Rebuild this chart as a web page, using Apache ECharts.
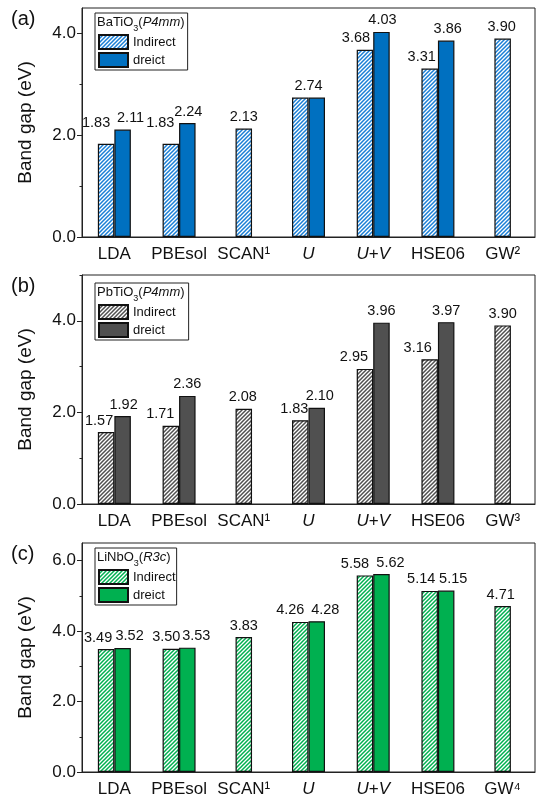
<!DOCTYPE html>
<html><head><meta charset="utf-8">
<script src="https://cdn.jsdelivr.net/npm/echarts@6/dist/echarts.min.js"></script>
<style>html,body{margin:0;padding:0;background:#fff}#c{width:536px;height:798px}</style>
</head><body><div id="c"></div>
<script>
// ---------- data ----------
const catsA = ['LDA', 'PBEsol', 'SCAN¹', 'U', 'U+V', 'HSE06', 'GW²'];
const catsB = ['LDA', 'PBEsol', 'SCAN¹', 'U', 'U+V', 'HSE06', 'GW³'];
const catsC = ['LDA', 'PBEsol', 'SCAN¹', 'U', 'U+V', 'HSE06', 'GW⁴'];

const batio3Indirect = [1.83, 1.83, 2.13, 2.74, 3.68, 3.31, 3.90];
const batio3Direct   = [2.11, 2.24, null, 2.74, 4.03, 3.86, null];
const pbtio3Indirect = [1.57, 1.71, 2.08, 1.83, 2.95, 3.16, 3.90];
const pbtio3Direct   = [1.92, 2.36, null, 2.10, 3.96, 3.97, null];
const linbo3Indirect = [3.49, 3.50, 3.83, 4.26, 5.58, 5.14, 4.71];
const linbo3Direct   = [3.52, 3.53, null, 4.28, 5.62, 5.15, null];

const yLabelsA = [0, 2, 4], yMinorA = [1, 3];
const yLabelsB = [0, 2, 4], yMinorB = [1, 3, 5];
const yLabelsC = [0, 2, 4, 6], yMinorC = [1, 3, 5];

// ---------- styling ----------
const FONT = 'Liberation Sans, Arial, Helvetica, sans-serif';
function hatch(color) {
  const c = document.createElement('canvas');
  c.width = 4; c.height = 4;
  const g = c.getContext('2d');
  g.fillStyle = '#ffffff'; g.fillRect(0, 0, 4, 4);
  g.strokeStyle = color; g.lineWidth = 1.5;
  g.beginPath();
  g.moveTo(-1, 5); g.lineTo(5, -1);
  g.moveTo(-3, 3); g.lineTo(3, -3);
  g.moveTo(1, 7); g.lineTo(7, 1);
  g.stroke();
  return c;
}

const panels = [
  { key: 'a', cats: catsA, ind: batio3Indirect, dir: batio3Direct, max: 4.5,
    labels: yLabelsA, minor: yMinorA, color: '#0070C0', hatchColor: '#1a7fd6',
    top: 8, boxTop: 13, boxRightPad: 12, title: '{n|BaTiO}{s|3}{n|(}{i|P4mm}{n|)}',
    indNudge: [[-10, -9], [-10.5, -9], [0, 0], null, [-9, 0], [-8, 0], [-1, 0]],
    dirNudge: [[8, 0], [1, 0], null, [-8.25, 0], [1, 0], [1.5, 0], null] },
  { key: 'b', cats: catsB, ind: pbtio3Indirect, dir: pbtio3Direct, max: 5,
    labels: yLabelsB, minor: yMinorB, color: '#505050', hatchColor: '#505050',
    top: 275, boxTop: 283, boxRightPad: 13, title: '{n|PbTiO}{s|3}{n|(}{i|P4mm}{n|)}',
    indNudge: [[-7, 0], [-10.5, 0], [-1, 0], [-6, 0], [-11, 0], [-12, 0], [0, 0]],
    dirNudge: [[1, 0], [0, 0], null, [3, 0], [0, 0], [0, 0], null] },
  { key: 'c', cats: catsC, ind: linbo3Indirect, dir: linbo3Direct, max: 6.5,
    labels: yLabelsC, minor: yMinorC, color: '#00B050', hatchColor: '#00B050',
    top: 543, boxTop: 548, boxRightPad: 1, title: '{n|LiNbO}{s|3}{n|(}{i|R3c}{n|)}',
    indNudge: [[-8, 0], [-4.5, 0], [0, 0], [-10, 0], [-10, 0], [-8.5, 0], [-2, 0]],
    dirNudge: [[7, 0], [9, 0], null, [8.5, 0], [9, 0], [7, 0], null] }
];

const option = {
  animation: false,
  textStyle: { fontFamily: FONT, color: '#111' },
  grid: [], xAxis: [], yAxis: [], series: [], legend: [], title: []
};

const richLegendTitle = {
  n: { fontSize: 13, color: '#111', fontFamily: FONT, fontWeight: 'normal', lineHeight: 15, verticalAlign: 'middle' },
  s: { fontSize: 9, color: '#111', fontFamily: FONT, fontWeight: 'normal', lineHeight: 9, verticalAlign: 'bottom', padding: [0, 0, -3, 0] },
  i: { fontSize: 13, color: '#111', fontFamily: FONT, fontWeight: 'normal', fontStyle: 'italic', lineHeight: 15, verticalAlign: 'middle' }
};

panels.forEach((p, k) => {
  const fillHatch = { image: hatch(p.hatchColor), repeat: 'repeat' };
  const border = { borderColor: '#111', borderWidth: 1.2 };
  option.grid.push({ left: 82, width: 453, top: p.top, height: 229, show: true,
    borderColor: '#222', borderWidth: 1, backgroundColor: 'transparent' });
  option.xAxis.push({
    gridIndex: k, type: 'category', data: p.cats,
    axisTick: { show: false },
    axisLine: { lineStyle: { color: '#222', width: 1 } },
    axisLabel: { fontSize: 17, color: '#111', margin: 9, interval: 0,
      formatter: n => n === 'U' ? '{i|U}' : (n === 'U+V' ? '{i|U}+{i|V}' : n),
      rich: { i: { fontStyle: 'italic', fontSize: 17, color: '#111', fontFamily: FONT } } }
  });
  option.xAxis.push({ gridIndex: k, type: 'category', data: p.cats, show: false });
  option.yAxis.push({
    gridIndex: k, type: 'value', min: 0, max: p.max, interval: 1,
    name: 'Band gap (eV)', nameLocation: 'middle', nameGap: 47,
    nameTextStyle: { fontSize: 19, color: '#111', fontFamily: FONT },
    axisLine: { show: true, lineStyle: { color: '#222', width: 1 } },
    axisTick: { show: true, customValues: p.labels, length: 5, lineStyle: { color: '#222' } },
    axisLabel: { customValues: p.labels, fontSize: 17, color: '#111', margin: 6,
      formatter: v => v.toFixed(1) },
    splitLine: { show: false }
  });
  option.yAxis.push({
    gridIndex: k, type: 'value', min: 0, max: p.max, interval: 1, position: 'left',
    axisLine: { show: false },
    axisTick: { show: true, customValues: p.minor, length: 2.5, lineStyle: { color: '#222' } },
    axisLabel: { show: false }, splitLine: { show: false }
  });
  const mk = (v, nudge) => {
    if (v === null) return '-';
    if (nudge === null) return { value: v, label: { show: false } };
    return { value: v, label: { offset: nudge } };
  };
  const labelCfg = { show: true, position: 'top', distance: 4, fontSize: 14.5, color: '#111',
    fontFamily: FONT, formatter: q => Number(q.value).toFixed(2) };
  // paired bars (categories having both values)
  option.series.push({
    name: p.key + '-Indirect', type: 'bar', xAxisIndex: 2 * k, yAxisIndex: 2 * k,
    barWidth: 16.5, barGap: '0%',
    itemStyle: Object.assign({ color: fillHatch }, border),
    label: labelCfg,
    data: p.ind.map((v, j) => p.dir[j] === null ? '-' : mk(v, p.indNudge[j]))
  });
  option.series.push({
    name: p.key + '-dreict', type: 'bar', xAxisIndex: 2 * k, yAxisIndex: 2 * k,
    barWidth: 16.5, barGap: '0%',
    itemStyle: Object.assign({ color: p.color }, border),
    label: labelCfg,
    data: p.dir.map((v, j) => mk(v, p.dirNudge[j]))
  });
  // single indirect bars (centered in category)
  option.series.push({
    name: p.key + '-Indirect', type: 'bar', xAxisIndex: 2 * k + 1, yAxisIndex: 2 * k,
    barWidth: 16.5,
    itemStyle: Object.assign({ color: fillHatch }, border),
    label: labelCfg,
    data: p.ind.map((v, j) => p.dir[j] === null ? mk(v, p.indNudge[j]) : '-')
  });
  option.legend.push({
    orient: 'vertical', left: 95, top: p.boxTop,
    itemWidth: 29, itemHeight: 14, itemGap: 2, icon: 'rect',
    padding: [21, p.boxRightPad, 2, 3],
    borderColor: '#222', borderWidth: 1, selectedMode: false,
    textStyle: { fontSize: 13, color: '#111', fontFamily: FONT },
    formatter: n => n.split('-')[1],
    data: [p.key + '-Indirect', p.key + '-dreict']
  });
  option.title.push({ text: '(' + p.key + ')', left: 11, top: p.top + 1, padding: 0,
    textStyle: { fontSize: 20, fontWeight: 'normal', color: '#111', fontFamily: FONT } });
  option.title.push({ text: p.title, left: 97, top: p.boxTop + 2, padding: 0,
    textStyle: { fontWeight: 'normal', rich: richLegendTitle } });
});

const chart = echarts.init(document.getElementById('c'), null, { renderer: 'canvas' });
chart.setOption(option);
</script>
</body></html>
